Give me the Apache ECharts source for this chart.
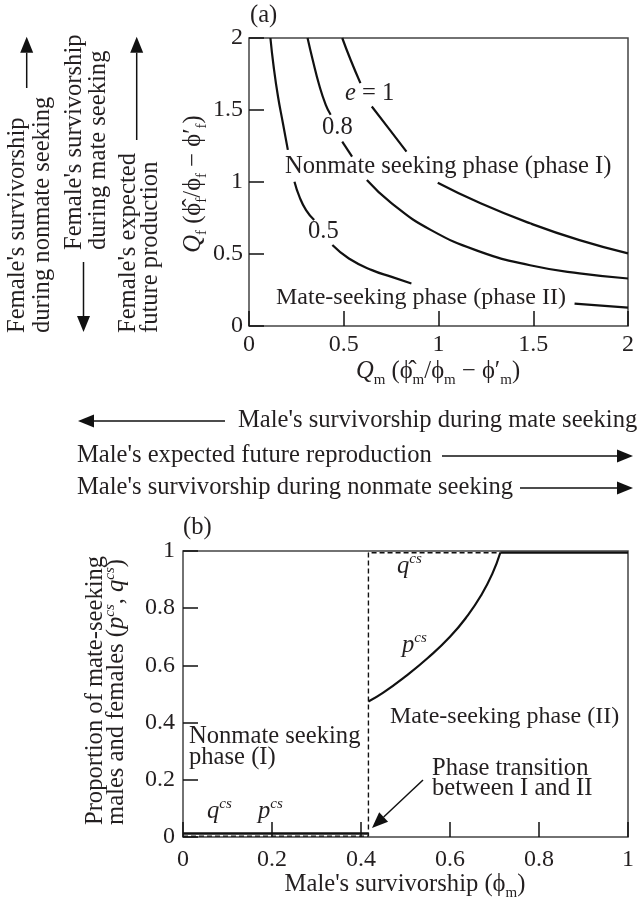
<!DOCTYPE html>
<html><head><meta charset="utf-8">
<script src="https://cdn.jsdelivr.net/npm/echarts@6/dist/echarts.min.js"></script>
<style>html,body{margin:0;padding:0;background:#fff}#c{width:637px;height:901px}</style>
</head><body><div id="c"></div>
<script>
// ---------- Panel (a): isoclines e = 0.5, 0.8, 1 (segments broken where labels sit) ----------
const curveE05 = [
  [[0.113,2.0],[0.130,1.802],[0.153,1.594],[0.179,1.408],[0.205,1.223]],
  [[0.240,1.002],[0.266,0.898],[0.301,0.805],[0.344,0.736]],
  [[0.440,0.562],[0.527,0.469],[0.649,0.388],[0.753,0.341],[0.857,0.295]],
  [[1.718,0.156],[2.0,0.128]]
];
const curveE08 = [
  [[0.309,2.0],[0.336,1.849],[0.370,1.675],[0.405,1.536],[0.431,1.467]],
  [[0.492,1.280],[0.544,1.176]],
  [[0.622,1.014],[0.753,0.852],[0.961,0.666],[1.222,0.515],[1.483,0.422],[1.744,0.365],[2.0,0.330]]
];
const curveE1 = [
  [[0.492,2.0],[0.536,1.849],[0.588,1.687]],
  [[0.648,1.524],[0.736,1.374],[0.831,1.211]],
  [[0.996,0.995],[1.222,0.852],[1.483,0.713],[1.744,0.596],[2.0,0.504]]
];
const topTickLabels = ['0','0.5','1','1.5','2'];

// ---------- Panel (b): proportions p^cs (solid) and q^cs (dashed) ----------
const pLow  = [[0,0.012],[0.4167,0.012]];
const pHigh = [[0.4167,0.474],[0.45,0.505],[0.5,0.562],[0.55,0.626],[0.6,0.700],[0.64,0.775],[0.67,0.845],[0.695,0.920],[0.713,0.994]];
const pTop  = [[0.713,0.994],[1.0,0.994]];
const qLine = [[0,0.003],[0.4167,0.003],[0.4167,0.994],[0.713,0.994]];
const bottomTickLabels = ['0','0.2','0.4','0.6','0.8','1'];

const FF = 'Liberation Serif';
const INK = '#231f20';
const FS = 24;     // tick labels
const TS = 24.6;   // captions

function valAxis(gi, min, max, interval, labels, margin) {
  return {
    type: 'value', gridIndex: gi, min: min, max: max, interval: interval,
    axisLine: {show: false},
    axisTick: {show: true, inside: true, length: 15, lineStyle: {color: '#111', width: 1.5}},
    splitLine: {show: false},
    axisLabel: {
      margin: margin, color: INK, fontFamily: FF, fontSize: FS,
      formatter: function (v) { return labels[Math.round((v - min) / interval)]; }
    }
  };
}

const series = [];
[curveE05, curveE08, curveE1].forEach(function (c) {
  c.forEach(function (seg) {
    series.push({type: 'line', xAxisIndex: 0, yAxisIndex: 0, data: seg, smooth: 0.5,
      symbol: 'none', silent: true, lineStyle: {color: '#111', width: 2.2}});
  });
});
series.push({type: 'line', xAxisIndex: 1, yAxisIndex: 1, data: qLine, symbol: 'none', silent: true,
  lineStyle: {color: '#111', width: 1.4, type: [5, 3]}});
series.push({type: 'line', xAxisIndex: 1, yAxisIndex: 1, data: pLow, symbol: 'none', silent: true,
  lineStyle: {color: '#111', width: 2.4}});
series.push({type: 'line', xAxisIndex: 1, yAxisIndex: 1, data: pHigh, smooth: 0.5, symbol: 'none', silent: true,
  lineStyle: {color: '#111', width: 2.2}});
series.push({type: 'line', xAxisIndex: 1, yAxisIndex: 1, data: pTop, symbol: 'none', silent: true,
  lineStyle: {color: '#111', width: 2.2}});

const rich = {
  i:   {fontStyle: 'italic', fontFamily: FF, fontSize: TS, fill: INK, color: INK},
  s:   {fontFamily: FF, fontSize: 15, fill: INK, color: INK, verticalAlign: 'bottom'},
  sup: {fontFamily: FF, fontSize: 15, fontStyle: 'italic', fill: INK, color: INK, verticalAlign: 'top'}
};
function T(text, x, y, opts) {
  opts = opts || {};
  return {
    type: 'text', x: x, y: y, rotation: opts.rot || 0, z: 50,
    style: {
      text: text, fontFamily: FF, fontSize: opts.fs || TS, fill: INK,
      align: opts.align || 'left', textAlign: opts.align || 'left',
      verticalAlign: 'middle', textVerticalAlign: 'middle',
      lineHeight: opts.lh || 32, rich: rich
    }
  };
}
function arrow(x1, y1, x2, y2) {
  const dx = x2 - x1, dy = y2 - y1, L = Math.sqrt(dx * dx + dy * dy);
  const ux = dx / L, uy = dy / L, hl = 16, hw = 6.5;
  const bx = x2 - ux * hl, by = y2 - uy * hl;
  return [
    {type: 'line', z: 50, shape: {x1: x1, y1: y1, x2: bx, y2: by}, style: {stroke: '#111', lineWidth: 1.5}},
    {type: 'polygon', z: 50, shape: {points: [[x2, y2], [bx - uy * hw, by + ux * hw], [bx + uy * hw, by - ux * hw]]},
      style: {fill: '#111'}}
  ];
}

const R = Math.PI / 2;
let graphic = [
  // panel (a) annotations
  T('(a)', 250, 16),
  T('{i|e} = 1', 345, 94),
  T('0.8', 322, 128),
  T('Nonmate seeking phase (phase I)', 285, 167),
  T('0.5', 308, 232),
  T('Mate-seeking phase (phase II)', 276, 298, {fs: 24}),
  T('{i|Q}{s|f} (\u03D5\u0302{s|f}/\u03D5{s|f} \u2212 \u03D5\u2032{s|f})', 194, 184, {rot: R, align: 'center'}),
  T('{i|Q}{s|m} (\u03D5\u0302{s|m}/\u03D5{s|m} \u2212 \u03D5\u2032{s|m})', 438, 372, {align: 'center'}),
  // left rotated captions
  T("Female's survivorship", 18, 333, {rot: R}),
  T('during nonmate seeking', 43, 333, {rot: R}),
  T("Female's survivorship", 75, 250, {rot: R}),
  T('during mate seeking', 99, 250, {rot: R}),
  T("Female's expected", 129, 333, {rot: R}),
  T('future production', 151, 333, {rot: R}),
  // middle captions
  T("Male's survivorship during mate seeking", 238, 421),
  T("Male's expected future reproduction", 77, 456),
  T("Male's survivorship during nonmate seeking", 77, 488),
  // panel (b) annotations
  T('(b)', 183, 528),
  T('{i|q}{sup|cs}', 397, 567, {lh: 30}),
  T('{i|p}{sup|cs}', 402, 646, {lh: 30}),
  T('Mate-seeking phase (II)', 390, 717, {fs: 24}),
  T('Nonmate seeking', 189, 737),
  T('phase (I)', 189, 758),
  T('{i|q}{sup|cs}', 207, 812, {lh: 30}),
  T('{i|p}{sup|cs}', 258, 812, {lh: 30}),
  T('Phase transition', 432, 769),
  T('between I and II', 432, 789),
  T('Proportion of mate-seeking', 96, 825, {rot: R}),
  T('males and females ({i|p}{sup|cs}, {i|q}{sup|cs})', 117, 825, {rot: R, lh: 28}),
  T("Male's survivorship (\u03D5{s|m})", 405, 885, {align: 'center'})
];
graphic = graphic
  .concat(arrow(26.7, 88, 26.7, 36.7))
  .concat(arrow(83.5, 262, 83.5, 332))
  .concat(arrow(136.7, 140, 136.7, 36.7))
  .concat(arrow(225, 421, 78, 421))
  .concat(arrow(442, 456, 633, 456))
  .concat(arrow(520, 488, 633, 488))
  .concat(arrow(423, 780, 372, 828));

const chart = echarts.init(document.getElementById('c'), null, {renderer: 'canvas'});
chart.setOption({
  backgroundColor: '#fff',
  animation: false,
  grid: [
    {left: 249, top: 38, width: 384, height: 288, show: true, borderColor: '#444', borderWidth: 1.5, backgroundColor: 'transparent'},
    {left: 183, top: 551, width: 445, height: 286, show: true, borderColor: '#444', borderWidth: 1.5, backgroundColor: 'transparent'}
  ],
  xAxis: [valAxis(0, 0, 2, 0.5, topTickLabels, 7), valAxis(1, 0, 1, 0.2, bottomTickLabels, 11)],
  yAxis: [valAxis(0, 0, 2, 0.5, topTickLabels, 6), valAxis(1, 0, 1, 0.2, bottomTickLabels, 8)],
  series: series,
  graphic: graphic
});
</script>
</body></html>
